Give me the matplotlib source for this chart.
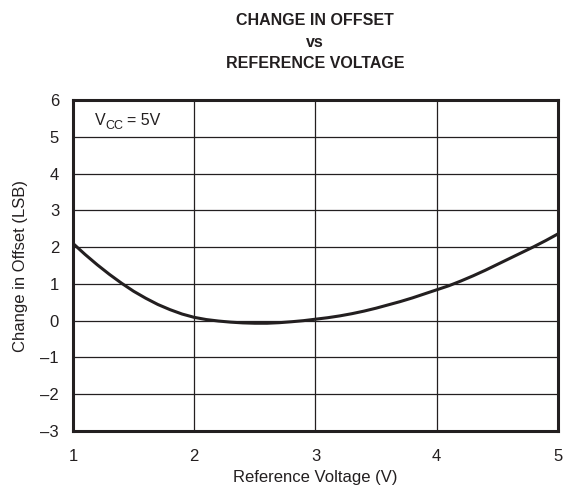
import matplotlib
matplotlib.use("Agg")
import matplotlib.pyplot as plt

plt.rcParams["font.family"] = ["Liberation Sans", "DejaVu Sans"]

INK = "#231f20"

# Curve (V, LSB)
vref = [1.0, 1.1, 1.2, 1.3, 1.4, 1.5, 1.6, 1.7, 1.8, 1.9,
        2.0, 2.1, 2.2, 2.3, 2.4, 2.5, 2.6, 2.7, 2.8, 2.9,
        3.0, 3.1, 3.2, 3.3, 3.4, 3.5, 3.6, 3.7, 3.8, 3.9,
        4.0, 4.1, 4.2, 4.3, 4.4, 4.5, 4.6, 4.7, 4.8, 4.9, 5.0]
offset = [2.10, 1.80, 1.52, 1.26, 1.02, 0.80, 0.61, 0.44, 0.30, 0.18,
          0.09, 0.03, -0.01, -0.04, -0.06, -0.07, -0.07, -0.055, -0.03, 0.00,
          0.04, 0.08, 0.13, 0.19, 0.26, 0.34, 0.43, 0.52, 0.62, 0.73,
          0.84, 0.95, 1.08, 1.22, 1.37, 1.53, 1.69, 1.85, 2.01, 2.18, 2.36]

xticks = [1, 2, 3, 4, 5]
yticks = [-3, -2, -1, 0, 1, 2, 3, 4, 5, 6]
ytick_labels = ["\u20133", "\u20132", "\u20131", "0", "1", "2", "3", "4", "5", "6"]

fig = plt.figure(figsize=(5.65, 4.91), dpi=100)
ax = fig.add_axes([0.1292, 0.1222, 0.8584, 0.6741])

ax.plot(vref, offset, color=INK, linewidth=2.2, zorder=3, solid_capstyle="butt")

ax.set_xlim(1, 5)
ax.set_ylim(-3, 6)
ax.set_xticks(xticks)
ax.set_xticklabels([str(t) for t in xticks])
ax.set_yticks(yticks)
ax.set_yticklabels(ytick_labels)
ax.tick_params(length=0, labelsize=12, colors=INK)
ax.tick_params(axis="x", pad=13)
ax.tick_params(axis="y", pad=10)

ax.grid(True, color=INK, linewidth=0.9, zorder=1)
for s in ax.spines.values():
    s.set_linewidth(2.2)
    s.set_color(INK)

ax.set_xlabel("Reference Voltage (V)", fontsize=12, color=INK, labelpad=4)
ax.set_ylabel("Change in Offset (LSB)", fontsize=12, color=INK, labelpad=9)

# V_CC = 5V, subscript set by hand so it sits lower like the original
ax.annotate("V", xy=(1.18, 5.45), fontsize=11.5, va="center", ha="left", color=INK)
ax.annotate("CC", xy=(1.18, 5.45), xytext=(7.7, -4), textcoords="offset points",
            fontsize=9, va="center", ha="left", color=INK)
ax.annotate("= 5V", xy=(1.18, 5.45), xytext=(23, 0), textcoords="offset points",
            fontsize=11.5, va="center", ha="left", color=INK)

fig.text(0.558, 0.973, "CHANGE IN OFFSET\nvs\nREFERENCE VOLTAGE",
         ha="center", va="top", fontsize=11.5, fontweight="bold",
         linespacing=1.55, color=INK)

fig.savefig("out.png", dpi=100, facecolor="white")
